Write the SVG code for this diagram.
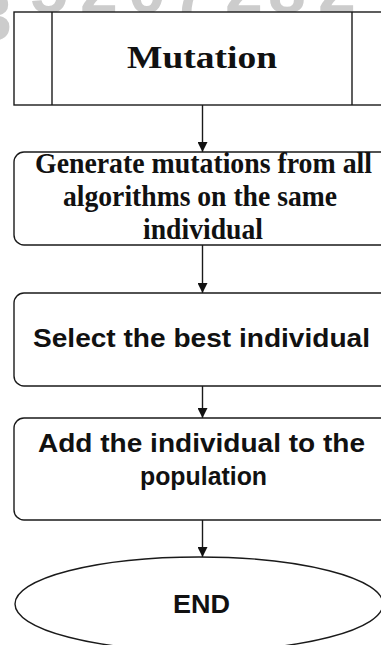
<svg xmlns="http://www.w3.org/2000/svg" width="381" height="645" viewBox="0 0 381 645">
  <style>
    .shape { fill: #ffffff; stroke: #1a1a1a; stroke-width: 1.4; }
    .edge { fill: none; stroke: #1a1a1a; stroke-width: 1.4; }
    .serif { font-family: "Liberation Serif", "Times New Roman", serif; font-weight: bold; fill: #111111; text-anchor: middle; }
    .sans { font-family: "Liberation Sans", Arial, sans-serif; font-weight: bold; fill: #111111; text-anchor: middle; }
    .mark { font-family: "Liberation Sans", Arial, sans-serif; font-weight: bold; fill: #cccccc; font-size: 68px; }
  </style>
  <defs>
    <marker id="arrow" viewBox="0 0 10 10" refX="10" refY="5" markerWidth="10" markerHeight="10" markerUnits="userSpaceOnUse" orient="auto">
      <path d="M0,0 L10,5 L0,10 z" fill="#111111"/>
    </marker>
  </defs>

  <rect width="381" height="645" fill="#ffffff"/>

  <!-- faint background watermark, mostly hidden behind the first box -->
  <text class="mark" x="-26" y="40">3</text>
  <text class="mark" x="30 80 128 172 225 268 318" y="13">5207282</text>

  <!-- connectors -->
  <g id="connectors">
    <line class="edge" x1="202.5" y1="105" x2="202.5" y2="152" marker-end="url(#arrow)"/>
    <line class="edge" x1="202.5" y1="245" x2="202.5" y2="293" marker-end="url(#arrow)"/>
    <line class="edge" x1="202.5" y1="386" x2="202.5" y2="418" marker-end="url(#arrow)"/>
    <line class="edge" x1="202.5" y1="520" x2="202.5" y2="557" marker-end="url(#arrow)"/>
  </g>

  <!-- predefined process: Mutation -->
  <g id="mutation">
    <rect class="shape" x="14" y="12" width="376" height="93"/>
    <line class="edge" x1="52" y1="12" x2="52" y2="105"/>
    <line class="edge" x1="352" y1="12" x2="352" y2="105"/>
    <text class="serif" x="202" y="68" font-size="32" textLength="150" lengthAdjust="spacingAndGlyphs">Mutation</text>
  </g>

  <g id="generate">
    <rect class="shape" x="14" y="152" width="376" height="93" rx="10"/>
    <text class="serif" x="203.5" y="173" font-size="29" textLength="337" lengthAdjust="spacingAndGlyphs">Generate mutations from all</text>
    <text class="serif" x="200" y="206" font-size="29" textLength="274" lengthAdjust="spacingAndGlyphs">algorithms on the same</text>
    <text class="serif" x="203" y="239" font-size="29" textLength="120" lengthAdjust="spacingAndGlyphs">individual</text>
  </g>

  <g id="select">
    <rect class="shape" x="14" y="293" width="376" height="93" rx="10"/>
    <text class="sans" x="201.5" y="347" font-size="25" textLength="337" lengthAdjust="spacingAndGlyphs">Select the best individual</text>
  </g>

  <g id="add">
    <rect class="shape" x="14" y="418" width="376" height="102" rx="10"/>
    <text class="sans" x="201.5" y="452" font-size="25" textLength="327" lengthAdjust="spacingAndGlyphs">Add the individual to the</text>
    <text class="sans" x="203.5" y="485" font-size="25" textLength="127" lengthAdjust="spacingAndGlyphs">population</text>
  </g>

  <g id="end">
    <ellipse class="shape" cx="199" cy="604" rx="184" ry="47"/>
    <text class="sans" x="201.5" y="613" font-size="25" textLength="57" lengthAdjust="spacingAndGlyphs">END</text>
  </g>
</svg>
